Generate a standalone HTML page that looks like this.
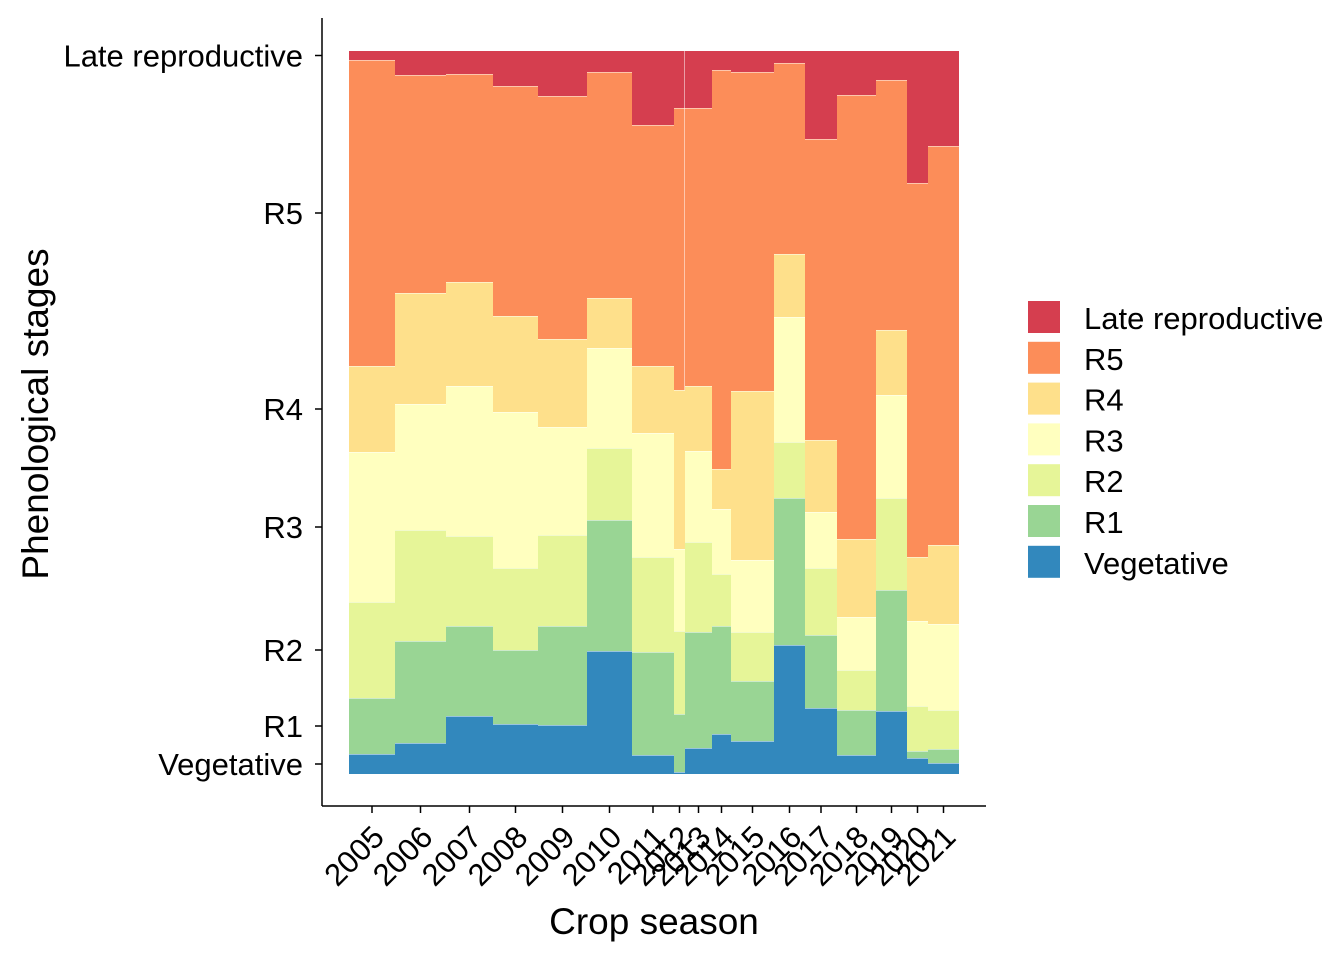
<!DOCTYPE html>
<html><head><meta charset="utf-8"><style>
body{margin:0;background:#fff;}
svg text{font-family:"Liberation Sans",Arial,sans-serif;fill:#000;}
</style></head><body>
<svg id="chart" width="1344" height="960" viewBox="0 0 1344 960" xmlns="http://www.w3.org/2000/svg">
<g id="bars"></g>
<g id="axes"></g>
<g id="legend"></g>
</svg>
<script>
const years = ["2005","2006","2007","2008","2009","2010","2011","2012","2013","2014","2015","2016","2017","2018","2019","2020","2021"];
const yearWeights = [46,51,47,45,49,45,42,11,27,19,43,31,32,39,31,21,31];
const stages = ["Vegetative","R1","R2","R3","R4","R5","Late reproductive"];
const stageColors = ["#3288BD","#99D594","#E6F598","#FFFFBF","#FEE08B","#FC8D59","#D53E4F"];
const vegetative = [20,31,58,50,49,123,19,2,26,40,33,129,66,19,63,16,11];
const r1 = [56,102,90,74,99,131,103,58,116,108,60,147,73,45,121,7,14];
const r2 = [96,111,90,82,91,72,95,83,90,52,49,56,67,40,92,45,39];
const r3 = [150,126,150,156,108,100,124,82,91,65,72,125,56,53,103,85,86];
const r4 = [86,111,104,96,88,50,67,159,65,40,169,63,72,78,65,64,79];
const r5 = [306,218,208,230,243,226,241,282,278,399,319,191,301,444,250,374,399];
const lateRepro = [9,24,23,35,45,21,74,57,57,19,21,12,88,44,29,132,95];
const series = [vegetative,r1,r2,r3,r4,r5,lateRepro];

const NS="http://www.w3.org/2000/svg";
const X0=349,X1=959,Y0=774,Y1=51,AX=322;
const totalW=yearWeights.reduce((a,b)=>a+b,0);
function xScale(v){return X0+(v/totalW)*(X1-X0);}
function yScale(p){return Y0-p*(Y0-Y1);}
function mk(tag,attrs,parent){const e=document.createElementNS(NS,tag);for(const k in attrs)e.setAttribute(k,attrs[k]);parent.appendChild(e);return e;}
const bars=document.getElementById('bars'),axes=document.getElementById('axes'),legend=document.getElementById('legend');
let cum=0;const centers=[];let firstMids=[];
years.forEach((yr,i)=>{
  const xa=xScale(cum),xb=xScale(cum+yearWeights[i]);cum+=yearWeights[i];
  centers.push((xa+xb)/2);
  const tot=series.reduce((s,a)=>s+a[i],0);
  let c=0;
  series.forEach((arr,k)=>{
    const p0=c/tot,p1=(c+arr[i])/tot;c+=arr[i];
    const r=mk('rect',{x:xa,y:yScale(p1),width:xb-xa,height:yScale(p0)-yScale(p1),fill:stageColors[k]},bars);
    
    
    if(k<series.length-1){
      const l=mk('line',{x1:xa,x2:xb,y1:yScale(p1),y2:yScale(p1),stroke:'#fff','stroke-width':1},bars);
      
      
    }
    if(i===0)firstMids.push(yScale((p0+p1)/2));
  });
  if(yr==="2012"){
    const pR5=(tot-lateRepro[i]-r5[i])/tot;
    const l=mk('line',{x1:xb,x2:xb,y1:Y1,y2:yScale(pR5),stroke:'#fff','stroke-width':1},bars);
    
    
  }
});
let e=mk('line',{x1:AX,x2:AX,y1:18,y2:806,stroke:'#000','stroke-width':1.5},axes);

e=mk('line',{x1:AX,x2:986,y1:806,y2:806,stroke:'#000','stroke-width':1.5},axes);

stages.forEach((s,k)=>{
  const y=firstMids[k];
  const t=mk('line',{x1:315,x2:AX,y1:y,y2:y,stroke:'#000','stroke-width':1.5},axes);
  
  const tx=mk('text',{x:303,y:y+11,'text-anchor':'end','font-size':31},axes);
  tx.textContent=s;
  
});
years.forEach((yr,i)=>{
  const x=centers[i];
  const t=mk('line',{x1:x,x2:x,y1:806,y2:813,stroke:'#000','stroke-width':1.5},axes);
  
  const tx=mk('text',{x:0,y:0,'text-anchor':'end','font-size':31,transform:'translate('+(x+14)+',839) rotate(-45)'},axes);
  tx.textContent=yr;
  
});
e=mk('text',{x:654,y:934,'text-anchor':'middle','font-size':37},axes);e.textContent='Crop season';

e=mk('text',{x:0,y:0,'text-anchor':'middle','font-size':37,transform:'translate(48,414) rotate(-90)'},axes);e.textContent='Phenological stages';

for(let j=0;j<stages.length;j++){
  const k=stages.length-1-j;const y=301+j*40.8;
  const r=mk('rect',{x:1028,y:y,width:32,height:32,fill:stageColors[k]},legend);
  
  const t=mk('text',{x:1084,y:y+28,'font-size':31},legend);t.textContent=stages[k];
  
}
</script>
</body></html>
